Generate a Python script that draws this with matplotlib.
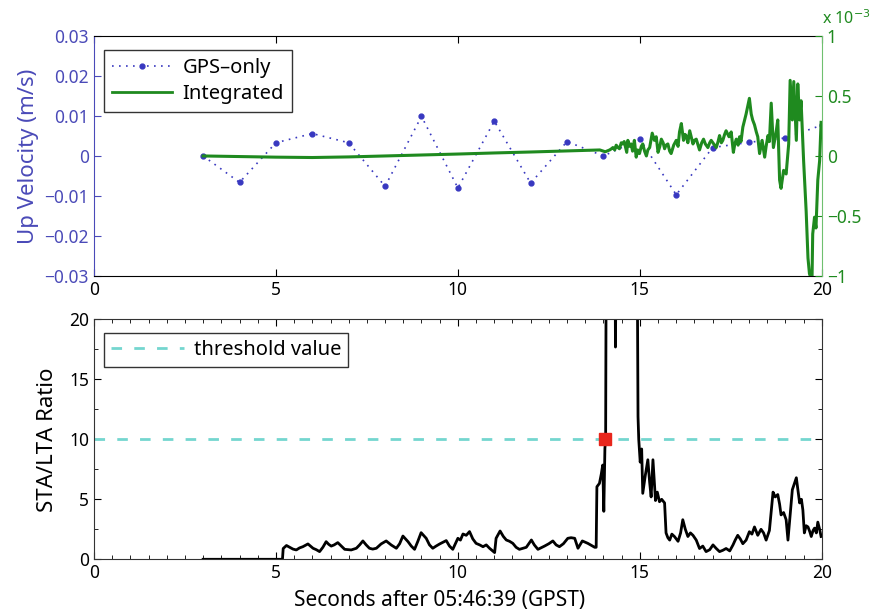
import numpy as np
import matplotlib
matplotlib.use("Agg")
import matplotlib.pyplot as plt
from matplotlib.ticker import MultipleLocator

plt.rcParams['font.family'] = ['Noto Sans', 'DejaVu Sans']

# GPS-only up velocity, one sample per second (m/s)
gps_t = [3, 4, 5, 6, 7, 8, 9, 10, 11, 12, 13, 14, 15, 16, 17, 18, 19, 20]
gps_v = [0.0, -0.0066, 0.0033, 0.0056, 0.0033, -0.0076, 0.0099, -0.0080, 0.0087,
         -0.0068, 0.0036, 0.0, 0.0042, -0.0097, 0.0021, 0.0034, 0.0045, 0.0077]

# Integrated (GPS + accelerometer) up velocity, units of 1e-3 m/s
int_t = [3.0, 4.0, 5.0, 6.0, 7.0, 8.0, 9.0, 10.0, 11.0, 12.0, 13.0, 13.6, 13.9, 14.05,
         14.17, 14.22, 14.26, 14.31, 14.35, 14.4, 14.44, 14.49, 14.53, 14.57, 14.6,
         14.64, 14.67, 14.72, 14.76, 14.8, 14.85, 14.9, 14.94, 14.99, 15.04,
         15.08, 15.13, 15.18, 15.22, 15.27, 15.34, 15.4, 15.45, 15.5, 15.55, 15.59,
         15.64, 15.68, 15.72, 15.77, 15.82, 15.86, 15.93,
         16.0, 16.05, 16.09, 16.14, 16.2, 16.24, 16.27, 16.32, 16.37, 16.42, 16.46,
         16.5, 16.55, 16.6, 16.64, 16.7, 16.75, 16.8, 16.87, 16.92,
         16.96, 17.03, 17.1, 17.15, 17.19, 17.24, 17.28, 17.33, 17.37, 17.45, 17.51,
         17.57, 17.61, 17.65, 17.7, 17.74, 17.78,
         17.83, 17.92, 18.01, 18.06, 18.1, 18.15, 18.2, 18.24, 18.29, 18.36, 18.43,
         18.47, 18.52, 18.56, 18.61, 18.67, 18.75, 18.79, 18.84, 18.88, 18.95, 19.02,
         19.09, 19.13, 19.19, 19.23, 19.3, 19.34, 19.39, 19.43, 19.5, 19.57, 19.62,
         19.66, 19.73, 19.75, 19.8, 19.84, 19.89, 19.94, 19.98]
int_v = [0.0, -0.005, -0.01, -0.013, -0.008, 0.0, 0.008, 0.016, 0.025, 0.033, 0.042,
         0.048, 0.05, 0.035, 0.05, 0.06, 0.07, 0.05, 0.09, 0.07, 0.06, 0.11, 0.10,
         0.12, 0.08, 0.03, 0.13, 0.08, 0.10, 0.04, 0.13, -0.01, 0.05, 0.02, 0.08,
         0.10, 0.04, 0.0, 0.05, 0.07, 0.19, 0.13, 0.16, 0.03, 0.08, 0.14, 0.11, 0.06,
         0.09, 0.10, 0.04, 0.02, 0.09,
         0.13, 0.08, 0.20, 0.27, 0.13, 0.18, 0.17, 0.11, 0.21, 0.15, 0.10,
         0.13, 0.14, 0.09, 0.05, 0.11, 0.14, 0.10, 0.07, 0.11,
         0.13, 0.10, 0.07, 0.12, 0.17, 0.11, 0.13, 0.18, 0.21, 0.16, 0.20,
         0.03, 0.10, 0.14, 0.09, 0.16, 0.12,
         0.24, 0.35, 0.48, 0.35, 0.30, 0.26, 0.20, 0.16, 0.02, 0.13, -0.01,
         0.08, 0.17, 0.12, 0.44, 0.07, 0.21, 0.30, -0.20, -0.27,
         -0.12, -0.15, 0.10, 0.63, 0.30, 0.62, 0.13, 0.60, 0.30, 0.46, -0.04, -0.46,
         -0.85, -0.98, -1.05, -0.65, -0.51, -0.60, -0.20, -0.04, 0.28]

# STA/LTA ratio of the integrated record
sta_t = [3.0, 5.18, 5.2, 5.29, 5.38, 5.47, 5.56, 5.65, 5.74, 5.88, 6.02, 6.11, 6.2,
         6.29, 6.38, 6.45, 6.52, 6.6, 6.7, 6.8, 6.89,
         7.07, 7.21, 7.3, 7.39, 7.48, 7.57, 7.66, 7.76, 7.89, 8.03, 8.17, 8.31, 8.4,
         8.49, 8.63, 8.72, 8.81, 8.9,
         8.99, 9.13, 9.22, 9.31, 9.4, 9.5, 9.68, 9.77, 9.86, 10.0, 10.07, 10.14, 10.23,
         10.32, 10.41, 10.5, 10.6, 10.69, 10.78, 10.87,
         11.01, 11.05, 11.16, 11.25, 11.33, 11.42, 11.51, 11.6, 11.69, 11.88, 11.95,
         12.02, 12.1, 12.2, 12.38, 12.5, 12.61, 12.7,
         12.79, 12.9, 13.02, 13.11, 13.21, 13.3, 13.42, 13.57, 13.76, 13.8, 13.82,
         13.89, 13.94, 13.98, 14.01, 14.04, 14.06, 14.08, 14.2, 14.31, 14.33, 14.36,
         14.6, 14.92, 14.95, 14.97, 15.01, 15.05, 15.08, 15.15, 15.22, 15.27, 15.31,
         15.36, 15.43, 15.48, 15.54, 15.6, 15.68,
         15.72, 15.77, 15.82, 15.88, 15.95, 16.05, 16.12, 16.18, 16.25, 16.32, 16.39,
         16.46, 16.55, 16.64, 16.73, 16.82,
         16.92, 17.01, 17.1, 17.19, 17.28, 17.37, 17.47, 17.56, 17.62, 17.69, 17.76,
         17.83, 17.92, 18.01, 18.08, 18.15, 18.24, 18.33, 18.4, 18.47, 18.56, 18.66,
         18.72, 18.79, 18.84, 18.88, 18.95, 19.02, 19.07,
         19.19, 19.3, 19.35, 19.39, 19.44, 19.48, 19.52, 19.57, 19.62, 19.67, 19.71,
         19.76, 19.8, 19.85, 19.89, 19.94, 19.98]
sta_v = [0.0, 0.0, 0.9, 1.15, 1.0, 0.85, 0.78, 0.95, 1.05, 1.28, 0.92, 0.8, 0.64,
         1.0, 1.47, 1.25, 1.1, 1.2, 1.39, 1.1, 0.83,
         0.78, 0.92, 1.2, 1.53, 1.2, 0.92, 0.85, 0.92, 1.28, 1.53, 1.19, 0.92, 1.3,
         1.94, 1.47, 1.1, 0.83, 1.5,
         2.22, 1.75, 1.2, 0.92, 1.1, 1.28, 1.56, 1.1, 0.83, 1.75, 1.6, 2.11, 2.0,
         2.31, 1.7, 1.33, 1.2, 1.05, 1.2, 0.92,
         0.56, 1.75, 2.36, 1.9, 1.61, 1.5, 1.33, 1.0, 0.83, 1.0, 1.3,
         1.61, 1.2, 0.83, 1.1, 1.3, 1.53, 1.2,
         1.05, 1.3, 1.75, 1.8, 1.75, 0.92, 1.53, 1.33, 1.0, 1.0, 6.05,
         6.33, 7.1, 7.86, 4.0, 9.25, 10.0, 30.0, 30.0, 30.0, 17.7, 30.0,
         30.0, 30.0, 11.9, 10.0, 8.1, 9.2, 5.5, 7.0, 8.3, 6.4, 5.2,
         8.3, 4.9, 5.6, 4.8, 5.0, 4.7,
         2.2, 1.8, 1.6, 2.1, 1.9, 1.5, 2.2, 3.3, 2.5, 1.9, 2.2,
         2.0, 1.6, 0.9, 1.1, 0.64,
         0.8, 1.2, 0.9, 0.64, 0.75, 0.9, 0.7, 1.2, 1.6, 2.0, 1.7,
         1.3, 1.6, 2.3, 2.1, 2.7, 2.0, 2.5, 2.2, 1.6, 2.4, 5.6,
         5.2, 5.4, 4.6, 3.7, 3.9, 3.3, 1.6,
         5.8, 6.8, 5.6, 4.7, 5.0, 4.1, 2.2, 2.8, 2.7, 2.3, 1.9,
         2.4, 2.6, 2.2, 3.1, 2.5, 1.9]

threshold = 10
trigger_t, trigger_v = 14.04, 10.0

blue = '#3838c0'
axis_blue = '#4a4ab8'
green = '#1f8a1f'

fig = plt.figure(figsize=(8.78, 6.14), dpi=100)
ax1 = fig.add_axes([0.107, 0.5505, 0.829, 0.391])
ax3 = fig.add_axes([0.107, 0.0891, 0.829, 0.3906])

# --- top panel: velocities ---
ax1.plot(gps_t, gps_v, color=blue, lw=1.2, dashes=(1, 3.2), marker='.', ms=7,
         label='GPS\u2013only')
ax1.plot([], [], color=green, lw=2, label='Integrated')
ax1.set_xlim(0, 20)
ax1.set_ylim(-0.03, 0.03)
ax1.set_yticks([-0.03, -0.02, -0.01, 0, 0.01, 0.02, 0.03])
ax1.set_yticklabels(['\u22120.03', '\u22120.02', '\u22120.01', '0', '0.01', '0.02', '0.03'])
ax1.set_xticks([0, 5, 10, 15, 20])
ax1.tick_params(axis='x', direction='in', top=True, labelsize=12.5, length=5)
ax1.tick_params(axis='y', direction='in', right=True, colors=axis_blue,
                labelcolor=axis_blue, labelsize=12.5, length=5)
ax1.set_ylabel('Up Velocity (m/s)', color=axis_blue, fontsize=16, labelpad=4)
ax1.spines['left'].set_color(axis_blue)
ax1.spines['right'].set_visible(False)

ax2 = ax1.twinx()
ax2.plot(int_t, int_v, color=green, lw=2.2)
ax2.set_ylim(-1, 1)
ax2.set_yticks([-1, -0.5, 0, 0.5, 1])
ax2.set_yticklabels(['\u22121', '\u22120.5', '0', '0.5', '1'])
ax2.tick_params(axis='y', direction='in', colors=green, labelcolor=green,
                labelsize=12.5, length=5)
ax2.spines['right'].set_color('#6fc06f')
ax2.spines['left'].set_visible(False)
ax2.spines['top'].set_visible(False)
ax2.spines['bottom'].set_visible(False)
ax2.text(1.0, 1.035, 'x 10$^{-3}$', transform=ax2.transAxes, color=green,
         fontsize=11.5, ha='left', va='bottom')

leg = ax1.legend(loc='upper left', bbox_to_anchor=(0.0, 0.985), fontsize=14.5,
                 fancybox=False, framealpha=1, edgecolor='#333333',
                 handlelength=3.0, borderpad=0.4, labelspacing=0.3,
                 handletextpad=0.5)
leg.get_frame().set_linewidth(1.0)

# --- bottom panel: STA/LTA ---
ax3.plot(sta_t, sta_v, color='black', lw=2)
ax3.axhline(threshold, color='#74d6cf', lw=2, dashes=(3.8, 4.4), label='threshold value')
ax3.plot([trigger_t], [trigger_v], 's', color='#e8261c', ms=8)
ax3.set_xlim(0, 20)
ax3.set_ylim(0, 20)
ax3.set_xticks([0, 5, 10, 15, 20])
ax3.set_yticks([0, 5, 10, 15, 20])
ax3.xaxis.set_minor_locator(MultipleLocator(0.5))
ax3.yaxis.set_minor_locator(MultipleLocator(2.5))
ax3.tick_params(which='both', direction='in', top=True, right=True, labelsize=12.5)
ax3.tick_params(which='major', length=5)
ax3.tick_params(which='minor', length=3)
ax3.set_ylabel('STA/LTA Ratio', fontsize=16, labelpad=8)
ax3.set_xlabel('Seconds after 05:46:39 (GPST)', fontsize=15)
ax3.xaxis.set_label_coords(0.475, -0.13)
for s in ax3.spines.values():
    s.set_color('#333333')
leg2 = ax3.legend(loc='upper left', bbox_to_anchor=(0.0, 0.985), fontsize=14.5,
                  fancybox=False, framealpha=1, edgecolor='#333333',
                  handlelength=3.6, borderpad=0.35, handletextpad=0.5)
leg2.get_frame().set_linewidth(1.0)

fig.savefig('out.png', dpi=100)
